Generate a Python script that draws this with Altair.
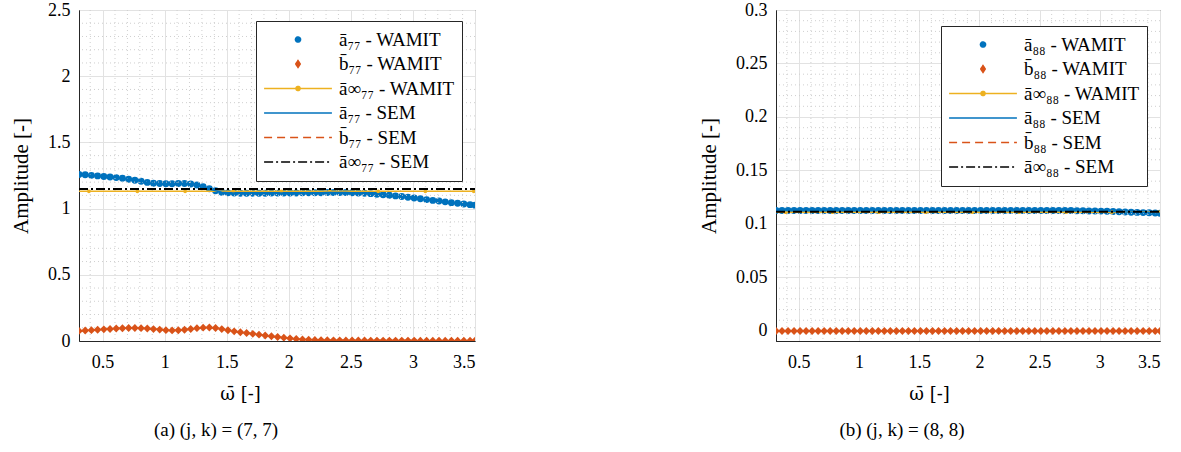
import altair as alt
import pandas as pd

# ---------------- data ----------------
omega = [0.31, 0.36, 0.41, 0.46, 0.51, 0.56, 0.61, 0.66, 0.71, 0.76,
         0.81, 0.86, 0.91, 0.96, 1.01, 1.06, 1.11, 1.16, 1.21, 1.26,
         1.31, 1.36, 1.41, 1.46, 1.51, 1.56, 1.61, 1.66, 1.71, 1.76,
         1.81, 1.86, 1.91, 1.96, 2.01, 2.06, 2.11, 2.16, 2.21, 2.26,
         2.31, 2.36, 2.41, 2.46, 2.51, 2.56, 2.61, 2.66, 2.71, 2.76,
         2.81, 2.86, 2.91, 2.96, 3.01, 3.06, 3.11, 3.16, 3.21, 3.26,
         3.31, 3.36, 3.41, 3.46, 3.50]

a77 = [1.258, 1.255, 1.251, 1.247, 1.243, 1.238, 1.234, 1.229, 1.222, 1.214,
       1.206, 1.198, 1.192, 1.189, 1.188, 1.188, 1.189, 1.189, 1.186, 1.178,
       1.166, 1.150, 1.135, 1.124, 1.119, 1.117, 1.116, 1.116, 1.116, 1.116,
       1.116, 1.117, 1.117, 1.117, 1.118, 1.118, 1.119, 1.119, 1.120, 1.120,
       1.121, 1.121, 1.121, 1.121, 1.120, 1.118, 1.116, 1.113, 1.109, 1.105,
       1.101, 1.096, 1.091, 1.086, 1.080, 1.074, 1.068, 1.062, 1.057, 1.051,
       1.045, 1.040, 1.035, 1.030, 1.026]

b77 = [0.076, 0.079, 0.082, 0.085, 0.088, 0.091, 0.094, 0.096, 0.098, 0.098,
       0.097, 0.094, 0.090, 0.086, 0.082, 0.080, 0.081, 0.085, 0.091, 0.097,
       0.101, 0.102, 0.098, 0.090, 0.081, 0.073, 0.066, 0.060, 0.054, 0.048,
       0.042, 0.036, 0.030, 0.025, 0.020, 0.015, 0.012, 0.010, 0.008, 0.007,
       0.006, 0.005, 0.005, 0.004, 0.004, 0.004, 0.004, 0.003, 0.003, 0.003,
       0.003, 0.003, 0.003, 0.003, 0.003, 0.002, 0.002, 0.002, 0.002, 0.002,
       0.002, 0.002, 0.002, 0.002, 0.002]

a88 = [0.1125, 0.1125, 0.1125, 0.1125, 0.1125, 0.1125, 0.1125, 0.1125, 0.1125, 0.1125,
       0.1125, 0.1125, 0.1125, 0.1125, 0.1125, 0.1125, 0.1125, 0.1125, 0.1125, 0.1125,
       0.1125, 0.1125, 0.1125, 0.1125, 0.1125, 0.1125, 0.1125, 0.1125, 0.1125, 0.1125,
       0.1125, 0.1125, 0.1125, 0.1125, 0.1125, 0.1125, 0.1125, 0.1125, 0.1125, 0.1125,
       0.1125, 0.1125, 0.1125, 0.1125, 0.1125, 0.1125, 0.1125, 0.1125, 0.1125, 0.1125,
       0.1124, 0.1123, 0.1122, 0.1121, 0.1120, 0.1118, 0.1116, 0.1114, 0.1112, 0.1110,
       0.1108, 0.1106, 0.1104, 0.1102, 0.1100]

b88 = [0.0, 0.0, 0.0, 0.0, 0.0, 0.0, 0.0, 0.0, 0.0, 0.0,
       0.0, 0.0, 0.0, 0.0, 0.0, 0.0, 0.0, 0.0, 0.0, 0.0,
       0.0, 0.0, 0.0, 0.0, 0.0, 0.0, 0.0, 0.0, 0.0, 0.0,
       0.0, 0.0, 0.0, 0.0, 0.0, 0.0, 0.0, 0.0, 0.0, 0.0,
       0.0, 0.0, 0.0, 0.0, 0.0, 0.0, 0.0, 0.0, 0.0, 0.0,
       0.0, 0.0, 0.0, 0.0, 0.0, 0.0, 0.0, 0.0, 0.0, 0.0,
       0.0, 0.0, 0.0, 0.0, 0.0]

ainf77_wamit = 1.131
ainf77_sem = 1.148
ainf88_wamit = 0.1110
ainf88_sem = 0.1115
inf_marker_omega = [0.39, 0.78, 1.165, 1.553, 1.94, 2.33, 2.72, 3.10, 3.49]
omega_range = [0.31, 3.50]

x_ticks = [0.5, 1, 1.5, 2, 2.5, 3, 3.5]
x_minor = [0.4, 0.6, 0.7, 0.8, 0.9, 1.1, 1.2, 1.3, 1.4, 1.6, 1.7, 1.8, 1.9,
           2.1, 2.2, 2.3, 2.4, 2.6, 2.7, 2.8, 2.9, 3.1, 3.2, 3.3, 3.4]
y77_ticks = [0, 0.5, 1, 1.5, 2, 2.5]
y77_minor = [0.1, 0.2, 0.3, 0.4, 0.6, 0.7, 0.8, 0.9, 1.1, 1.2, 1.3, 1.4,
             1.6, 1.7, 1.8, 1.9, 2.1, 2.2, 2.3, 2.4]
y88_ticks = [0, 0.05, 0.1, 0.15, 0.2, 0.25, 0.3]
y88_minor = [0.01, 0.02, 0.03, 0.04, 0.06, 0.07, 0.08, 0.09, 0.11, 0.12,
             0.13, 0.14, 0.16, 0.17, 0.18, 0.19, 0.21, 0.22, 0.23, 0.24,
             0.26, 0.27, 0.28, 0.29]

labels77 = ["ā₇₇ - WAMIT", "b̄₇₇ - WAMIT", "ā∞₇₇ - WAMIT",
            "ā₇₇ - SEM", "b̄₇₇ - SEM", "ā∞₇₇ - SEM"]
labels88 = ["ā₈₈ - WAMIT", "b̄₈₈ - WAMIT", "ā∞₈₈ - WAMIT",
            "ā₈₈ - SEM", "b̄₈₈ - SEM", "ā∞₈₈ - SEM"]

# ---------------- styles ----------------
BLUE = "#0072BD"
ORANGE = "#D95319"
YELLOW = "#EDB120"
BLACK = "#000000"
FONT = "Liberation Serif"
DOT = "M0.075,0A0.075,0.075,0,1,1,-0.075,0A0.075,0.075,0,1,1,0.075,0Z"
DIAM = "M0,-0.1L0.065,0L0,0.1L-0.065,0Z"
LINEDOT = "M-1,0L1,0M0.06,0A0.06,0.06,0,1,1,-0.06,0A0.06,0.06,0,1,1,0.06,0Z"
LINE = "M-1,0L1,0"
PLOT_H = 331


def make_panel(a_w, b_w, ainf_w, ainf_s, labels, ydom, yticks, yminor,
               width, leg_x, leg_y, caption, cap_dx, xtitle_x):
    xs = alt.Scale(domain=[0.31, 3.5], nice=False, zero=False)
    ys = alt.Scale(domain=ydom, nice=False, zero=False)
    xax = alt.Axis(values=x_ticks, format="~g", title="ω̄ [-]", grid=True,
                   ticks=False, labelPadding=12, titlePadding=14,
                   titleX=xtitle_x, titleAlign="center",
                   titleFont="DejaVu Serif", titleFontSize=18)
    yax = alt.Axis(values=yticks, format="~g", title="Amplitude [-]", grid=True,
                   ticks=False, labelPadding=9, titlePadding=16)

    def X(f):
        return alt.X(f, scale=xs, axis=xax)

    def Y(f):
        return alt.Y(f, scale=ys, axis=yax)

    df = pd.DataFrame({"omega": omega, "a_w": a_w, "b_w": b_w,
                       "a_s": a_w, "b_s": b_w})
    df_inf_w = pd.DataFrame({"omega": omega_range, "v": [ainf_w, ainf_w]})
    df_inf_s = pd.DataFrame({"omega": omega_range, "v": [ainf_s, ainf_s]})
    df_inf_m = pd.DataFrame({"omega": inf_marker_omega,
                             "v": [ainf_w] * len(inf_marker_omega)})
    df_xm = pd.DataFrame({"g": x_minor})
    df_ym = pd.DataFrame({"g": yminor})
    df_leg = pd.DataFrame({"series": labels, "omega": [1.0] * 6,
                           "v": [None] * 6})

    base = alt.Chart(df)
    pa = base.mark_point(shape="circle", filled=True, size=48, color=BLUE,
                         opacity=1, clip=True).encode(x=X("omega:Q"), y=Y("a_w:Q"))
    gx = alt.Chart(df_xm).mark_rule(color="#cfcfcf", strokeDash=[1, 3],
                                    strokeWidth=1).encode(x=X("g:Q"))
    gy = alt.Chart(df_ym).mark_rule(color="#cfcfcf", strokeDash=[1, 3],
                                    strokeWidth=1).encode(y=Y("g:Q"))
    pb = base.mark_point(shape="diamond", filled=True, size=62, color=ORANGE,
                         opacity=1, clip=True).encode(x=X("omega:Q"), y=Y("b_w:Q"))
    linf_w = alt.Chart(df_inf_w).mark_line(color=YELLOW, strokeWidth=1.5,
                                           clip=True).encode(x=X("omega:Q"), y=Y("v:Q"))
    minf_w = alt.Chart(df_inf_m).mark_point(filled=True, size=14, color=YELLOW,
                                            opacity=1, clip=True).encode(
        x=X("omega:Q"), y=Y("v:Q"))
    la = base.mark_line(color=BLUE, strokeWidth=1.5, clip=True).encode(
        x=X("omega:Q"), y=Y("a_s:Q"))
    lb = base.mark_line(color=ORANGE, strokeWidth=1.5, strokeDash=[8, 5],
                        clip=True).encode(x=X("omega:Q"), y=Y("b_s:Q"))
    linf_s = alt.Chart(df_inf_s).mark_line(color=BLACK, strokeWidth=2,
                                           strokeDash=[9, 3, 2, 3],
                                           clip=True).encode(x=X("omega:Q"), y=Y("v:Q"))

    leg = alt.Legend(title=None, orient="none", legendX=leg_x, legendY=leg_y,
                     strokeColor="#262626", fillColor="white", padding=7,
                     symbolSize=4600, symbolStrokeWidth=1.6, clipHeight=23,
                     rowPadding=1.5, labelFont=FONT, labelFontSize=19,
                     labelColor="black", labelOffset=6, labelLimit=400)
    cols = [BLUE, ORANGE, YELLOW, BLUE, ORANGE, BLACK]
    legend_layer = alt.Chart(df_leg).mark_point(opacity=1, filled=True).encode(
        x=X("omega:Q"),
        y=Y("v:Q"),
        fill=alt.Fill("series:N", scale=alt.Scale(domain=labels, range=cols),
                      legend=leg),
        stroke=alt.Stroke("series:N", scale=alt.Scale(domain=labels, range=cols),
                          legend=leg),
        shape=alt.Shape("series:N",
                        scale=alt.Scale(domain=labels,
                                        range=[DOT, DIAM, LINEDOT, LINE, LINE, LINE]),
                        legend=leg),
        strokeDash=alt.StrokeDash("series:N",
                                  scale=alt.Scale(domain=labels,
                                                  range=[[1, 0], [1, 0], [1, 0], [1, 0],
                                                         [8, 5], [9, 3, 2, 3]]),
                                  legend=leg),
    )

    return alt.layer(pa, gx, gy, pb, linf_w, minf_w, la, lb, linf_s,
                     legend_layer).properties(
        width=width, height=PLOT_H,
        title=alt.TitleParams(caption, orient="bottom", anchor="middle",
                              dx=cap_dx, offset=18, font=FONT, fontSize=19,
                              fontWeight="normal", color="black"))


left = make_panel(a77, b77, ainf77_wamit, ainf77_sem, labels77, [0, 2.5],
                  y77_ticks, y77_minor, 396, 177, 11,
                  "(a) (j, k) = (7, 7)", -61, 161)
right = make_panel(a88, b88, ainf88_wamit, ainf88_sem, labels88, [-0.0094, 0.3],
                   y88_ticks, y88_minor, 384, 165, 16,
                   "(b) (j, k) = (8, 8)", -66, 153)

chart = alt.hconcat(left, right, spacing=222).resolve_scale(
    x="independent", y="independent", fill="independent", stroke="independent",
    shape="independent", strokeDash="independent"
).resolve_legend(fill="independent", stroke="independent", shape="independent",
                 strokeDash="independent").properties(
    padding={"left": 10, "top": 0, "right": 5, "bottom": 5}
).configure_view(stroke="#262626", strokeWidth=1).configure_axis(
    labelFont=FONT, labelFontSize=18, labelColor="black",
    titleFont=FONT, titleFontSize=21, titleFontWeight="normal", titleColor="black",
    domainColor="#262626", domainWidth=1, gridColor="#e2e2e2", gridWidth=1
)

chart.save("out.html", embed_options={"renderer": "svg", "actions": False})
